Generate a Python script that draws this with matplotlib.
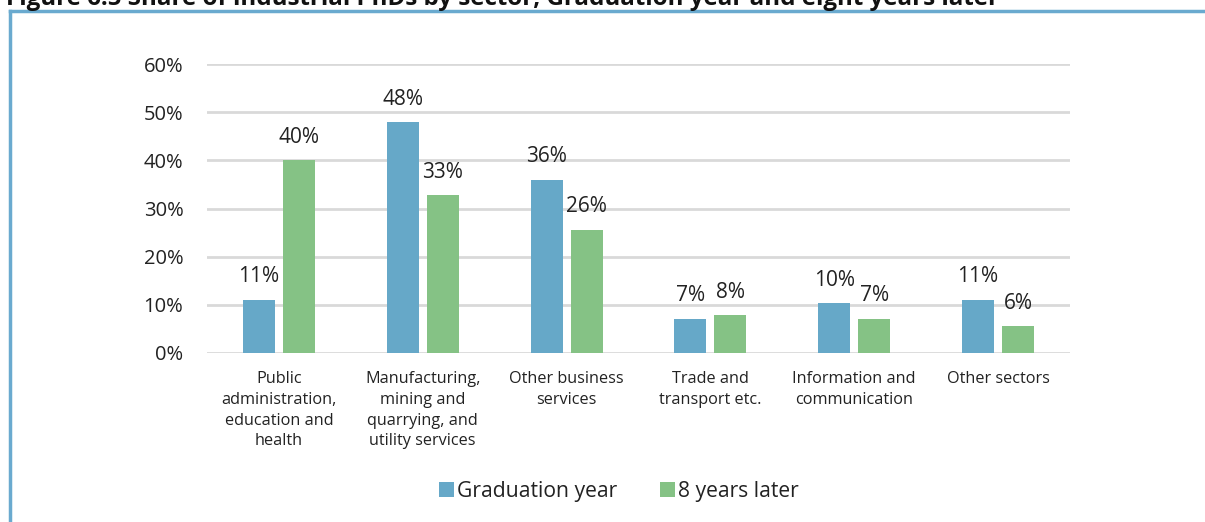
import numpy as np
import matplotlib
matplotlib.use('Agg')
import matplotlib.pyplot as plt
from matplotlib.lines import Line2D

plt.rcParams['font.family'] = ['Open Sans', 'DejaVu Sans']

# Sektorer og andel industrielle ph.d.er
sectors = ['Public\nadministration,\neducation and\nhealth',
           'Manufacturing,\nmining and\nquarrying, and\nutility services',
           'Other business\nservices',
           'Trade and\ntransport etc.',
           'Information and\ncommunication',
           'Other sectors']
graduation_year = [11.1, 47.9, 36.0, 7.1, 10.3, 11.1]
years_later = [40.0, 32.8, 25.6, 7.9, 7.1, 5.6]
series_names = ['Graduation year', '8 years later']
yticks = [0, 10, 20, 30, 40, 50, 60]

blue = '#66a8c8'
green = '#85c285'

fig = plt.figure(figsize=(12.05, 5.22), dpi=100)
ax = fig.add_axes([207 / 1205, 1 - 353 / 522, (1070 - 207) / 1205, (353 - 64) / 522])

x = np.arange(len(sectors))
w = 0.223
off = 0.139
b1 = ax.bar(x - off, graduation_year, w, color=blue, label=series_names[0], zorder=3)
b2 = ax.bar(x + off, years_later, w, color=green, label=series_names[1], zorder=3)

for bars, vals in [(b1, graduation_year), (b2, years_later)]:
    for rect, v in zip(bars, vals):
        ax.annotate(f'{v:.0f}%', (rect.get_x() + rect.get_width() / 2, v),
                    xytext=(0, 12.5), textcoords='offset points',
                    ha='center', va='baseline', fontsize=15, color='#222222')

ax.set_xlim(-0.5, len(sectors) - 0.5)
ax.set_ylim(0, 60)
ax.set_yticks(yticks)
ax.set_yticklabels([f'{t}%' for t in yticks], fontsize=14.5, color='#222222')
ax.set_xticks(x)
ax.set_xticklabels(sectors, fontsize=11.7, color='#222222', linespacing=1.4)
ax.tick_params(axis='y', length=0, pad=17)
ax.tick_params(axis='x', length=0, pad=13)
ax.grid(axis='y', color='#d9d9d9', linewidth=2)
ax.set_axisbelow(True)
for s in ax.spines.values():
    s.set_visible(False)

fig.legend(loc='center', bbox_to_anchor=(619 / 1205, 1 - 491 / 522), ncol=2,
           frameon=False, fontsize=15.2, handlelength=0.7, handleheight=0.7,
           handletextpad=0.15, columnspacing=2.0, labelcolor='#222222')

# ramme og overskrift
fig.add_artist(Line2D([10 / 1205, 10 / 1205], [0, 1 - 11 / 522], transform=fig.transFigure,
                      color='#6aaacf', linewidth=2.5))
fig.add_artist(Line2D([10 / 1205, 1], [1 - 11 / 522, 1 - 11 / 522], transform=fig.transFigure,
                      color='#6aaacf', linewidth=2.5))
fig.text(6 / 1205, 1 - 5 / 522,
         'Figure 6.5 Share of industrial PhDs by sector, Graduation year and eight years later',
         fontsize=17.4, fontweight='bold', color='#111111', ha='left', va='baseline')

fig.savefig('out.png', dpi=100)
